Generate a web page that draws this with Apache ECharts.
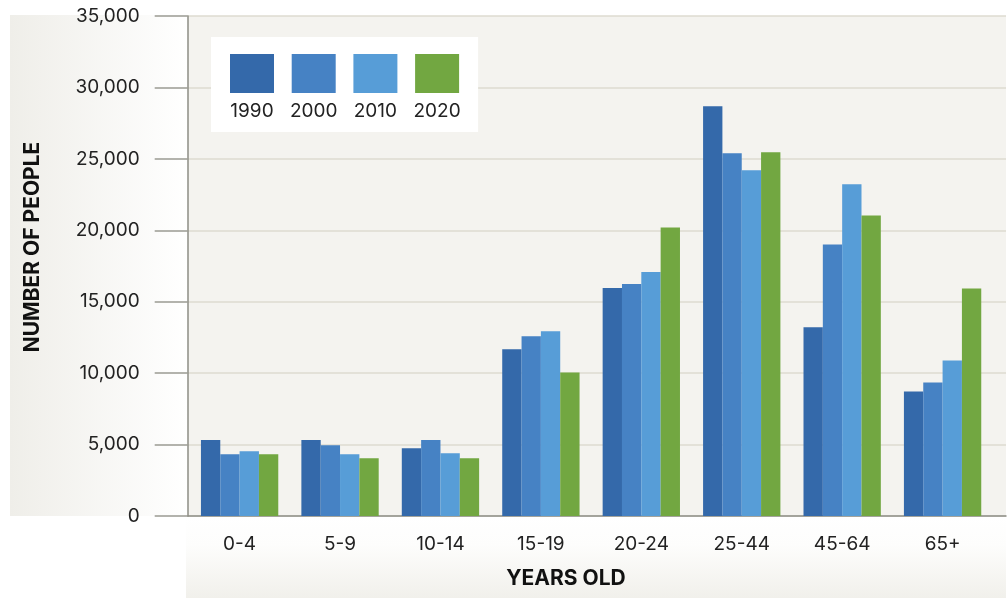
<!DOCTYPE html>
<html>
<head>
<meta charset="utf-8">
<script src="https://cdn.jsdelivr.net/npm/echarts@6/dist/echarts.min.js"></script>
<style>
  html, body { margin: 0; padding: 0; background: #ffffff; }
  #chart { width: 1007px; height: 598px; }
</style>
</head>
<body>
<div id="chart"></div>
<script>
const categories = ['0-4', '5-9', '10-14', '15-19', '20-24', '25-44', '45-64', '65+'];
const years = ['1990', '2000', '2010', '2020'];
const values1990 = [5320, 5320, 4740, 11670, 15960, 28690, 13220, 8720];
const values2000 = [4320, 4950, 5320, 12580, 16240, 25400, 19000, 9350];
const values2010 = [4530, 4320, 4390, 12930, 17080, 24210, 23220, 10890];
const values2020 = [4320, 4040, 4040, 10050, 20190, 25470, 21030, 15920];
const yTicks = ['0', '5,000', '10,000', '15,000', '20,000', '25,000', '30,000', '35,000'];
const yTitle = 'NUMBER OF PEOPLE';
const xTitle = 'YEARS OLD';

const colors = ['#3469aa', '#4682c4', '#579dd7', '#72a741'];
const seriesValues = [values1990, values2000, values2010, values2020];
const FONT = 'Inter, "Noto Sans", sans-serif';

const chart = echarts.init(document.getElementById('chart'), null, { renderer: 'canvas' });

const rich = { t: { fontFamily: FONT, fontSize: 19, color: '#222', width: 52, align: 'center', lineHeight: 37 } };
years.forEach((y, i) => {
  rich['c' + i] = { backgroundColor: colors[i], width: 44, height: 39, lineHeight: 39, align: 'center' };
});

const option = {
  animation: false,
  backgroundColor: '#ffffff',
  graphic: [
    {
      type: 'rect', z: -10, silent: true,
      shape: { x: 10, y: 15, width: 178, height: 501 },
      style: { fill: new echarts.graphic.LinearGradient(0, 0, 1, 0, [
        { offset: 0, color: '#efeee9' }, { offset: 1, color: '#ffffff' }]) }
    },
    {
      type: 'rect', z: -10, silent: true,
      shape: { x: 186, y: 517, width: 820, height: 81 },
      style: { fill: new echarts.graphic.LinearGradient(0, 0, 0, 1, [
        { offset: 0, color: '#ffffff' }, { offset: 0.35, color: '#fdfdfc' }, { offset: 1, color: '#f1f0eb' }]) }
    },
    {
      type: 'text', silent: true,
      x: 33, y: 247, rotation: Math.PI / 2,
      style: { text: yTitle, font: 'bold 21px ' + FONT, fill: '#111', align: 'center', verticalAlign: 'middle' }
    },
    {
      type: 'text', silent: true,
      x: 566, y: 579,
      style: { text: xTitle, font: 'bold 21px ' + FONT, fill: '#111', align: 'center', verticalAlign: 'middle' }
    }
  ],
  legend: {
    data: years,
    left: 211, top: 37,
    orient: 'horizontal',
    itemWidth: 0, itemHeight: 0,
    itemGap: 4.7,
    padding: [17, 15, 11, 10],
    backgroundColor: '#ffffff',
    selectedMode: true,
    formatter: function (name) {
      const i = years.indexOf(name);
      return '{c' + i + '| }\n{t|' + name + '}';
    },
    textStyle: { rich: rich }
  },
  grid: [
    { left: 187.7, right: 1, top: 16, bottom: 82, show: true, backgroundColor: '#f4f3ef', borderWidth: 0 },
    { left: 189.4, right: 14.2, top: 16, bottom: 82 }
  ],
  xAxis: [
    {
      gridIndex: 0, type: 'value', min: 0, max: 1,
      axisLine: { show: true, lineStyle: { color: '#8e8e86', width: 1.5 } },
      axisTick: { show: false }, axisLabel: { show: false }, splitLine: { show: false }
    },
    {
      gridIndex: 1, type: 'category', data: categories,
      axisLine: { show: false }, axisTick: { show: false },
      axisLabel: { margin: 19, fontFamily: FONT, fontSize: 19, color: '#222' }
    }
  ],
  yAxis: [
    {
      gridIndex: 0, type: 'value', min: 0, max: 35000, interval: 5000,
      axisLine: { show: true, lineStyle: { color: '#8e8e86', width: 1.5 } },
      axisTick: { show: true, length: 33, lineStyle: { color: '#9a9a92', width: 1.5 } },
      splitLine: { show: true, lineStyle: { color: '#dedbd0', width: 1.5 } },
      axisLabel: {
        margin: 48, fontFamily: FONT, fontSize: 19, color: '#222',
        formatter: function (v) { return yTicks[Math.round(v / 5000)]; }
      }
    },
    { gridIndex: 1, type: 'value', min: 0, max: 35000, show: false }
  ],
  series: years.map((y, i) => ({
    name: y, type: 'bar', xAxisIndex: 1, yAxisIndex: 1,
    data: seriesValues[i],
    barGap: '0%', barCategoryGap: '23%',
    itemStyle: { color: colors[i] }
  }))
};
chart.setOption(option);
</script>
</body>
</html>
